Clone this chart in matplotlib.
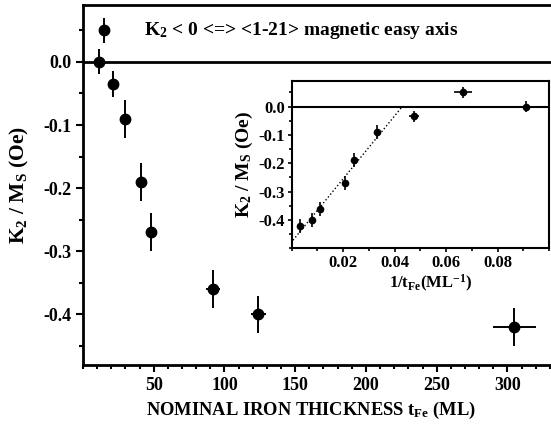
import matplotlib
matplotlib.use("Agg")
import matplotlib.pyplot as plt
from matplotlib.ticker import MultipleLocator, FixedLocator

plt.rcParams["font.family"] = "Liberation Serif"
plt.rcParams["font.weight"] = "bold"
plt.rcParams["axes.labelweight"] = "bold"
plt.rcParams["mathtext.fontset"] = "custom"
plt.rcParams["mathtext.rm"] = "Liberation Serif:bold"
plt.rcParams["mathtext.it"] = "Liberation Serif:bold"
plt.rcParams["mathtext.bf"] = "Liberation Serif:bold"
plt.rcParams["axes.unicode_minus"] = False

# nominal Fe thickness (ML) and anisotropy ratio
thickness = [11, 15, 21, 30, 41, 48, 92, 124, 305]
thickness_err = [1, 1, 1, 1, 1, 1, 5, 5.5, 15]
k2_ms = [0.0, 0.05, -0.035, -0.09, -0.19, -0.27, -0.36, -0.40, -0.42]
k2_ms_err = [0.02, 0.02, 0.02, 0.03, 0.03, 0.03, 0.03, 0.03, 0.03]

# inset: same data against inverse thickness
inv_t = [1.0 / t for t in thickness]
inv_t_err = [0.001, 0.0035, 0.002, 0.0012, 0.0008, 0.0008, 0.0006, 0.0008, 0.0009]
inset_k_err = [0.02, 0.02, 0.02, 0.025, 0.025, 0.025, 0.025, 0.025, 0.025]

# linear fit through the thick-film points
fit_slope = 11.1
fit_intercept = -0.477
fit_x = [0.0005, 0.0425]

fig = plt.figure(figsize=(5.51, 4.28), dpi=100)
ax = fig.add_axes([0.1506, 0.1472, 0.873, 0.8411])

ax.axhline(0, color="black", lw=2, zorder=1)
ax.errorbar(thickness, k2_ms, xerr=thickness_err, yerr=k2_ms_err, fmt="o",
            color="black", ms=7.5, elinewidth=1.4, capsize=0, zorder=3)

ax.set_xlim(0, 340)
ax.set_ylim(-0.48, 0.09)
ax.xaxis.set_major_locator(FixedLocator([50, 100, 150, 200, 250, 300]))
ax.xaxis.set_minor_locator(MultipleLocator(10))
ax.yaxis.set_major_locator(FixedLocator([0.0, -0.1, -0.2, -0.3, -0.4]))
ax.yaxis.set_minor_locator(MultipleLocator(0.05))
ax.set_yticklabels(["0.0", "-0.1", "-0.2", "-0.3", "-0.4"])
ax.tick_params(which="major", direction="out", length=5, width=1.5, labelsize=13)
ax.tick_params(which="minor", direction="out", length=3, width=1.5)
for s in ax.spines.values():
    s.set_linewidth(2)

ax.set_ylabel(r"K$_2$ / M$_\mathrm{S}$ (Oe)", fontsize=15.5)
ax.yaxis.set_label_coords(-0.108, 0.5)
fig.text(0.565, 0.042, r"NOMINAL IRON THICKNESS t$_\mathrm{Fe}$ (ML)", fontsize=13.3,
         ha="center", va="center")

fig.text(0.262, 0.928, r"K$_2$ < 0 <=> <1-21> magnetic easy axis", fontsize=14,
         ha="left", va="center")

# inset
ins = fig.add_axes([0.5294, 0.4199, 0.467, 0.3908])
ins.axhline(0, color="black", lw=1.5, zorder=1)
ins.plot(fit_x, [fit_intercept + fit_slope * x for x in fit_x], ls=":", color="black",
         lw=1, zorder=2)
ins.errorbar(inv_t, k2_ms, xerr=inv_t_err, yerr=inset_k_err, fmt="o", color="black",
             ms=4.5, elinewidth=1.2, capsize=0, zorder=3)
ins.set_xlim(0, 0.1)
ins.set_ylim(-0.5, 0.09)
ins.xaxis.set_major_locator(FixedLocator([0.02, 0.04, 0.06, 0.08]))
ins.xaxis.set_minor_locator(MultipleLocator(0.01))
ins.set_xticklabels(["0.02", "0.04", "0.06", "0.08"])
ins.yaxis.set_major_locator(FixedLocator([0.0, -0.1, -0.2, -0.3, -0.4]))
ins.yaxis.set_minor_locator(MultipleLocator(0.05))
ins.set_yticklabels(["0.0", "-0.1", "-0.2", "-0.3", "-0.4"])
ins.tick_params(which="major", direction="out", length=3, width=1.2, labelsize=12, pad=2)
ins.tick_params(which="minor", direction="out", length=2, width=1.2)
for s in ins.spines.values():
    s.set_linewidth(1.5)
ins.set_ylabel(r"K$_2$ / M$_\mathrm{S}$ (Oe)", fontsize=14, labelpad=2)
fig.text(0.782, 0.338, r"1/t$_\mathrm{Fe}$(ML$^\mathrm{-1}$)", fontsize=12,
         ha="center", va="center")

fig.savefig("out.png", dpi=100)
